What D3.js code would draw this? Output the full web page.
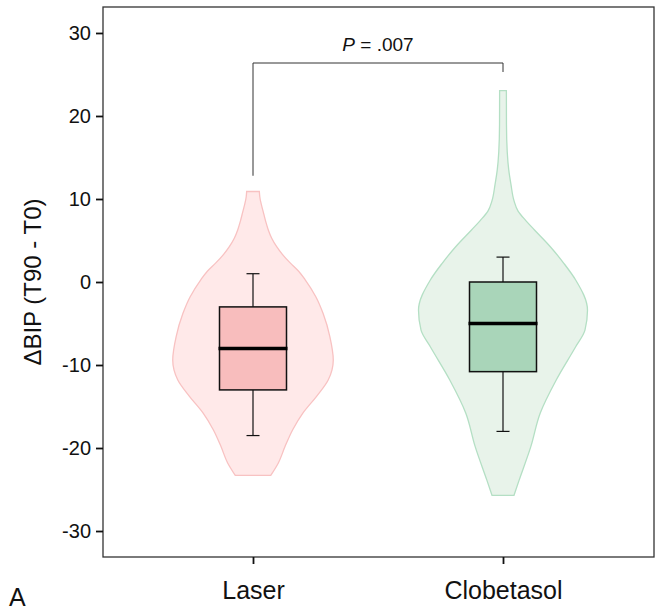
<!DOCTYPE html>
<html><head><meta charset="utf-8">
<script src="https://cdn.jsdelivr.net/npm/d3@7"></script>
<style>body{margin:0;background:#fff}svg{display:block;font-family:"Liberation Sans",Arial,sans-serif}</style>
</head><body><svg id="c" width="662" height="610"></svg>
<script>
const categories = ["Laser", "Clobetasol"];
const yTicks = [-30, -20, -10, 0, 10, 20, 30];
// box stats: [whiskerLow, q1, median, q3, whiskerHigh]
const laserBox = [-18.5, -13, -8, -3, 1];
const clobBox = [-18, -10.8, -5, 0, 3];
// violin density profiles: [value, relative density]
const laserViolin = [[10.9,0.075],[10.3,0.08],[8.3,0.125],[7.3,0.15],[6.3,0.18],[5.3,0.22],[4.25,0.28],[3.3,0.35],[2.3,0.44],[1.3,0.54],[0.24,0.62],[-1.8,0.745],[-3.8,0.83],[-6.6,0.91],[-9.4,0.95],[-11.8,0.89],[-13.8,0.75],[-15.8,0.59],[-17.8,0.47],[-19.8,0.38],[-21.8,0.30],[-23.3,0.21]];
const clobViolin = [[23.05,0.04],[19,0.041],[15.7,0.05],[13.5,0.068],[11.7,0.095],[9.8,0.13],[8.5,0.18],[7.4,0.27],[6.3,0.37],[4.25,0.56],[2.25,0.72],[0.24,0.86],[-3.4,1.0],[-5.8,0.97],[-7.8,0.86],[-11.8,0.63],[-15.8,0.44],[-19.8,0.33],[-23.9,0.19],[-25.7,0.13]];
const pLabel = ".007";
const bracketEnds = [12.8, 25.3];

const groups = [
  {name: categories[0], box: laserBox, violin: laserViolin, fill: "#FFE9E9", stroke: "#F8C2C2", boxFill: "#F8BDBD"},
  {name: categories[1], box: clobBox, violin: clobViolin, fill: "#E8F3EA", stroke: "#B4DFC4", boxFill: "#A9D5B9"}
];

const FONT = "Liberation Sans, Arial, sans-serif";
const svg = d3.select("#c");
const L = 103, R = 654, T = 7, B = 557;
const y = d3.scaleLinear().domain([-33.13, 33.13]).range([B, T]);
const x = d3.scalePoint().domain(categories).range([253, 503]);
const w = d3.scaleLinear().domain([0, 1]).range([0, 84.5]);
const boxW = 67, capW = 13;

groups.forEach(g => {
  const cx = x(g.name);
  const area = d3.area()
    .y(d => y(d[0]))
    .x0(d => cx - w(d[1]))
    .x1(d => cx + w(d[1]))
    .curve(d3.curveMonotoneY);
  svg.append("path").attr("d", area(g.violin))
    .attr("fill", g.fill).attr("stroke", g.stroke).attr("stroke-width", 1.3);
  const [wl, q1, med, q3, wh] = g.box;
  const sk = "#111";
  svg.append("line").attr("x1", cx).attr("x2", cx).attr("y1", y(wh)).attr("y2", y(q3)).attr("stroke", sk).attr("stroke-width", 1.2);
  svg.append("line").attr("x1", cx).attr("x2", cx).attr("y1", y(q1)).attr("y2", y(wl)).attr("stroke", sk).attr("stroke-width", 1.2);
  [wh, wl].forEach(v => svg.append("line").attr("x1", cx - capW/2).attr("x2", cx + capW/2).attr("y1", y(v)).attr("y2", y(v)).attr("stroke", sk).attr("stroke-width", 1.2));
  svg.append("rect").attr("x", cx - boxW/2).attr("width", boxW).attr("y", y(q3)).attr("height", y(q1) - y(q3))
    .attr("fill", g.boxFill).attr("stroke", sk).attr("stroke-width", 1.5);
  svg.append("line").attr("x1", cx - boxW/2 - 1).attr("x2", cx + boxW/2 + 1).attr("y1", y(med)).attr("y2", y(med)).attr("stroke", "#000").attr("stroke-width", 3.5);
});

// frame
svg.append("rect").attr("x", L).attr("y", T).attr("width", R - L).attr("height", B - T)
  .attr("fill", "none").attr("stroke", "#333").attr("stroke-width", 1.3);

// y axis
const ya = svg.append("g").attr("transform", `translate(${L},0)`)
  .call(d3.axisLeft(y).tickValues(yTicks).tickSize(7).tickPadding(5).tickFormat(d => String(d)));
ya.select(".domain").remove();
ya.selectAll("line").attr("stroke", "#111").attr("stroke-width", 1.8);
ya.selectAll("text").attr("font-size", 20).attr("fill", "#111").attr("font-family", FONT);

// x axis
const xa = svg.append("g").attr("transform", `translate(0,${B})`)
  .call(d3.axisBottom(x).tickSize(7).tickPadding(17));
xa.select(".domain").remove();
xa.selectAll("line").attr("stroke", "#111").attr("stroke-width", 1.8);
xa.selectAll("text").attr("font-size", 25).attr("fill", "#111").attr("font-family", FONT);

// y title
svg.append("text").attr("transform", `translate(41,${(T+B)/2}) rotate(-90)`)
  .attr("text-anchor", "middle").attr("font-size", 24).attr("fill", "#111").attr("font-family", FONT)
  .text("ΔBIP (T90 - T0)");

// bracket
const by = 63;
svg.append("path")
  .attr("d", `M${x(categories[0])},${y(bracketEnds[0])}V${by}H${x(categories[1])}V${y(bracketEnds[1])}`)
  .attr("fill", "none").attr("stroke", "#333").attr("stroke-width", 1);
const pt = svg.append("text").attr("x", (x(categories[0]) + x(categories[1]))/2).attr("y", 51)
  .attr("text-anchor", "middle").attr("font-size", 19).attr("fill", "#111").attr("font-family", FONT);
pt.append("tspan").attr("font-style", "italic").text("P");
pt.append("tspan").text(" = " + pLabel);

// panel letter
svg.append("text").attr("x", 9).attr("y", 606).attr("font-size", 25).attr("fill", "#111").attr("font-family", FONT).text("A");
</script></body></html>
